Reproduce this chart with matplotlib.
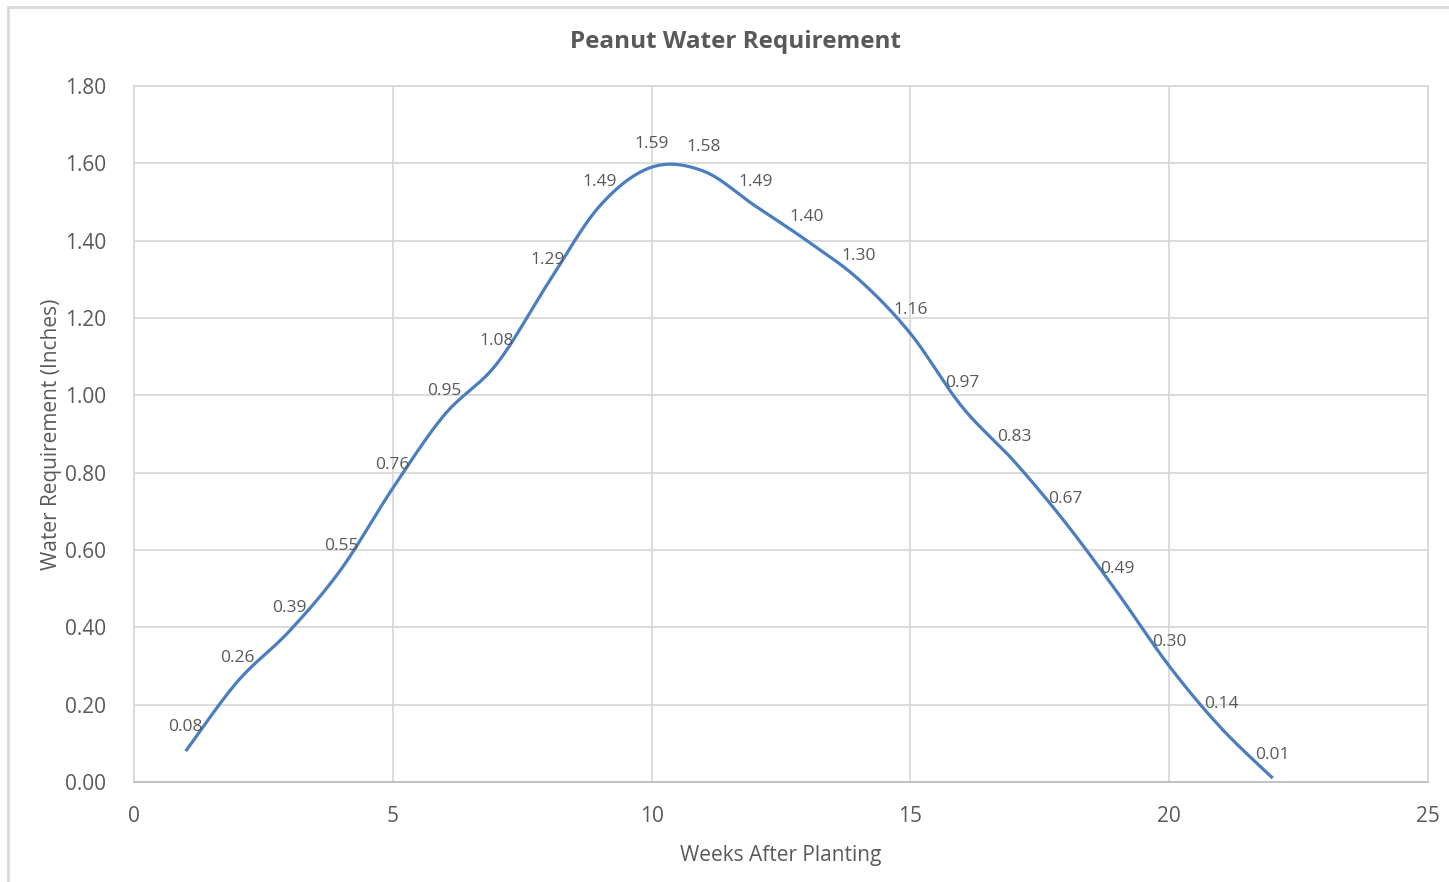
import numpy as np
import matplotlib
matplotlib.use("Agg")
import matplotlib.pyplot as plt
from matplotlib.patches import Rectangle

weeks = list(range(1, 23))
water = [0.08, 0.26, 0.39, 0.55, 0.76, 0.95, 1.08, 1.29, 1.49, 1.59, 1.58,
         1.49, 1.40, 1.30, 1.16, 0.97, 0.83, 0.67, 0.49, 0.30, 0.14, 0.01]
labels = [f"{v:.2f}" for v in water]

TXT = "#595959"
GRID = "#D9D9D9"
LINE = "#4A7EBF"
plt.rcParams['font.family'] = ['Open Sans', 'DejaVu Sans']


def smooth(xs, ys, n=30):
    # Excel-style smoothed line (Catmull-Rom / Bezier through points)
    P = np.column_stack([xs, ys]).astype(float)
    P = np.vstack([P[0], P, P[-1]])
    out = []
    for i in range(1, len(P) - 2):
        p0, p1, p2, p3 = P[i - 1], P[i], P[i + 1], P[i + 2]
        c1 = p1 + (p2 - p0) / 6
        c2 = p2 - (p3 - p1) / 6
        t = np.linspace(0, 1, n)[:, None]
        seg = ((1 - t) ** 3) * p1 + 3 * ((1 - t) ** 2) * t * c1 + 3 * (1 - t) * t ** 2 * c2 + t ** 3 * p2
        out.append(seg if i == 1 else seg[1:])
    s = np.vstack(out)
    return s[:, 0], s[:, 1]


fig = plt.figure(figsize=(14.49, 8.82), dpi=100)
fig.patches.append(Rectangle((8 / 1449, -0.1), 1.2, (882 - 7) / 882 + 0.1,
                             transform=fig.transFigure, fill=False,
                             edgecolor=GRID, lw=2, zorder=0))
ax = fig.add_axes([134 / 1449, 100 / 882, (1428 - 134) / 1449, (782 - 86) / 882])

sx, sy = smooth(weeks, water)
ax.plot(sx, sy, color=LINE, lw=2.3, solid_capstyle='butt', zorder=3)
for x, y, t in zip(weeks, water, labels):
    ax.annotate(t, (x, y), xytext=(0, 17), textcoords='offset points',
                ha='center', va='center', fontsize=12.5, color=TXT, zorder=4)

ax.set_xlim(0, 25)
ax.set_ylim(0, 1.8)
ax.set_xticks(np.arange(0, 26, 5))
ax.set_yticks(np.arange(0, 1.81, 0.2))
ax.set_yticklabels([f"{v:.2f}" for v in np.arange(0, 1.81, 0.2)])
ax.grid(True, color=GRID, lw=1.3)
ax.set_axisbelow(True)
for s in ax.spines.values():
    s.set_color(GRID)
    s.set_linewidth(1.3)
ax.spines['bottom'].set_color("#BFBFBF")
ax.tick_params(length=0, labelsize=15, colors=TXT, pad=17)
ax.tick_params(axis='y', pad=20)

ax.set_xlabel("Weeks After Planting", fontsize=15, color=TXT, labelpad=13)
ax.set_ylabel("Water Requirement (Inches)", fontsize=15, color=TXT, labelpad=2)
fig.text(736 / 1449, 1 - 42 / 882, "Peanut Water Requirement", ha='center', va='center',
         fontsize=17.5, fontweight='bold', color=TXT)

fig.savefig("out.png", dpi=100, facecolor='white')
